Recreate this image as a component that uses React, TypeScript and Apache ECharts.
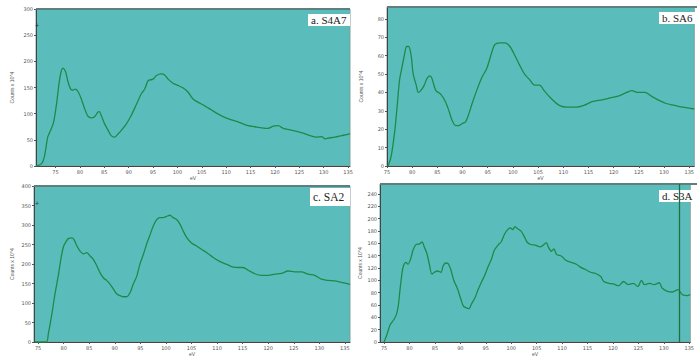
import React, { useEffect, useRef } from "react";
import * as echarts from "echarts";

// Panel a. S4A7 : [eV, counts x10^4]
const seriesA: number[][] = [
  [71, 0], [72.1, 4], [72.7, 17], [73.4, 55], [73.8, 64], [74.5, 80], [74.8, 93], [75.3, 125],
  [75.8, 163], [76.2, 182], [76.5, 187], [77.1, 179], [77.5, 163], [78.1, 147], [78.6, 145],
  [79.1, 147], [79.7, 141], [80.3, 128], [81, 109], [81.6, 96], [82.3, 92], [83, 94], [83.7, 103],
  [84, 104], [84.4, 96], [85.1, 80], [85.8, 68], [86.4, 58], [87.1, 55], [87.8, 61], [88.5, 68],
  [89.5, 80], [90.5, 96], [91.6, 118], [92.6, 138], [93.3, 147], [94, 163], [95, 166], [95.7, 173],
  [96.7, 176], [97.4, 174], [98.1, 166], [99.1, 158], [100.1, 154], [101.2, 149], [102.2, 141],
  [103.2, 128], [104.2, 122], [105.6, 115], [107, 107], [108.4, 99], [109.7, 93], [111.1, 88],
  [112.8, 83], [114.5, 77], [115.9, 75], [117.3, 73], [118.6, 72], [119.7, 76], [120.7, 77],
  [121.7, 72], [123.1, 69], [124.5, 66], [125.8, 63], [127.2, 58], [128.6, 55], [129.6, 56],
  [130.3, 52], [131.3, 54], [132.3, 55], [133.7, 58], [134.7, 60], [135.4, 62],
];

// Panel b. SA6
const seriesB: number[][] = [
  [75.2, 0], [75.8, 5], [76.5, 18], [77, 32], [77.5, 47], [78, 54], [78.5, 61], [78.9, 65],
  [79.3, 65], [79.8, 60], [80.2, 50], [80.8, 44], [81.2, 40], [81.7, 41], [82.4, 44], [83, 48],
  [83.6, 49], [84, 47], [84.7, 41], [85.7, 39], [86.6, 35], [87.3, 30], [87.9, 25], [88.6, 22],
  [89.2, 22], [89.9, 23], [90.6, 24], [91.2, 28], [91.9, 34], [92.8, 41], [93.8, 48], [94.8, 53],
  [95.6, 60], [96.4, 66], [97.4, 67], [98.4, 67], [99.4, 65], [100.4, 60], [101.3, 55],
  [102.3, 50], [103.3, 47], [104.3, 44], [105.3, 44], [106.2, 41], [107.5, 37], [109.2, 33],
  [110.8, 32], [112.5, 32], [114.1, 33], [115.7, 35], [117.7, 36], [119.3, 37], [120.9, 38],
  [122.6, 40], [123.6, 41], [124.9, 40], [126.2, 40], [127.5, 38], [128.8, 36], [130.4, 34],
  [132.1, 33], [133.7, 32], [136, 31],
];

// Panel c. SA2
const seriesC: number[][] = [
  [74.3, 0], [76.6, 0], [77, 21], [77.7, 72], [78.3, 123], [79, 174], [79.5, 216], [80, 246],
  [80.5, 258], [80.9, 265], [81.6, 267], [82, 263], [82.6, 246], [83.2, 233], [83.9, 226],
  [84.5, 229], [85.2, 220], [85.8, 212], [86.5, 195], [87.1, 178], [87.8, 164], [88.4, 158],
  [89.1, 148], [89.7, 136], [90.4, 123], [91, 119], [91.7, 116], [92.3, 116], [93, 127],
  [93.6, 148], [94.3, 169], [94.9, 199], [95.6, 225], [96.2, 250], [96.9, 275], [97.5, 297],
  [98.2, 314], [98.8, 319], [99.5, 319], [100.1, 322], [100.8, 325], [101.4, 319], [102.1, 314],
  [102.8, 301], [103.4, 284], [104.1, 267], [105, 254], [106, 246], [107, 237], [108, 229],
  [109.3, 216], [110.6, 206], [111.9, 199], [113.2, 192], [114.2, 191], [115.1, 191],
  [116.1, 184], [117.4, 175], [118.7, 171], [120, 171], [121.3, 174], [122.6, 176], [123.9, 182],
  [125.2, 180], [126.5, 180], [127.8, 174], [129.1, 171], [130.4, 161], [131.7, 158], [133, 157],
  [134.3, 153], [136, 148],
];

// Panel d. S3A
const seriesD: number[][] = [
  [75, 0], [75.6, 13], [76.2, 28], [76.9, 36], [77.4, 44], [77.8, 59], [78.1, 82], [78.5, 110],
  [78.8, 123], [79.3, 129], [79.7, 126], [80.2, 134], [80.7, 149], [81.3, 158], [82, 159],
  [82.5, 162], [82.9, 154], [83.4, 144], [83.9, 126], [84.4, 110], [84.9, 113], [85.5, 115],
  [86.2, 113], [86.6, 123], [87.1, 128], [87.6, 127], [88.1, 118], [88.7, 100], [89.4, 87],
  [90, 72], [90.6, 58], [91.3, 55], [91.7, 54], [92.2, 62], [92.9, 72], [93.5, 85], [94.2, 98],
  [94.8, 108], [95.4, 121], [96.1, 134], [96.7, 149], [97.4, 157], [98, 162], [98.7, 175],
  [99.3, 182], [99.8, 185], [100.3, 182], [100.7, 187], [101.2, 184], [101.9, 180], [102.5, 172],
  [103.1, 162], [103.8, 158], [104.7, 157], [105.7, 154], [106.3, 157], [106.9, 161], [107.3, 154],
  [107.9, 147], [108.4, 151], [108.9, 142], [109.9, 139], [110.8, 132], [111.8, 129], [112.8, 126],
  [113.7, 121], [114.7, 117], [115.6, 113], [116.6, 111], [117.6, 106], [118.2, 98], [119.2, 95],
  [120.1, 94], [121.1, 91], [122.1, 98], [123, 93], [124, 95], [124.9, 90], [125.6, 100],
  [126.2, 93], [127.2, 95], [128.1, 93], [129.1, 96], [129.7, 87], [130.7, 82], [131.7, 81],
  [132.8, 85], [133.6, 77], [134.6, 75], [135.2, 77],
];

const panelTitles = ["a. S4A7", "b. SA6", "c. SA2", "d. S3A"];
const xTicks = [75, 80, 85, 90, 95, 100, 105, 110, 115, 120, 125, 130, 135];
const yTicksA = [0, 50, 100, 150, 200, 250, 300];
const yTicksB = [0, 10, 20, 30, 40, 50, 60, 70, 80];
const yTicksC = [0, 50, 100, 150, 200, 250, 300, 350, 400];
const yTicksD = [0, 20, 40, 60, 80, 100, 120, 140, 160, 180, 200, 220, 240];
const markerD = 133;
const xName = "eV";
const yName = "Counts x 10^4";

const grids = [
  { left: 36, top: 9, width: 314, height: 157, xMin: 71, xMax: 135.4, yMax: 300, nameGap: 22 },
  { left: 387, top: 7, width: 310, height: 159, xMin: 75, xMax: 136, yMax: 86.5, nameGap: 24 },
  { left: 34, top: 186, width: 316, height: 157, xMin: 74.2, xMax: 136, yMax: 400, nameGap: 20 },
  { left: 380, top: 184, width: 317, height: 163, xMin: 74.2, xMax: 135.2, yMax: 256, nameGap: 18 },
];

const boxes = [
  { w: 42, dy: 5, h: 12, fs: 11 },
  { w: 38, dy: 5, h: 12, fs: 11 },
  { w: 40, dy: 2, h: 18, fs: 11.5 },
  { w: 38, dy: 6, h: 12, fs: 11 },
];

const App: React.FC = () => {
  const ref = useRef<HTMLDivElement>(null);
  useEffect(() => {
    if (!ref.current) return;
    const chart = echarts.init(ref.current, undefined, { renderer: "svg" });
    const yTicks = [yTicksA, yTicksB, yTicksC, yTicksD];
    const datas = [seriesA, seriesB, seriesC, seriesD];
    const labelStyle = { fontSize: 5, color: "#555", fontFamily: "DejaVu Sans" };
    const graphics: any[] = [];
    grids.forEach((g, i) => {
      graphics.push({
        type: "line",
        z: 1,
        shape: { x1: g.left, y1: g.top, x2: g.left + g.width, y2: g.top },
        style: { stroke: "#5f7f7d", lineWidth: 2 },
        silent: true,
      });
      const b = boxes[i];
      const bx = g.left + g.width - b.w;
      const by = g.top + b.dy;
      graphics.push({
        type: "rect",
        z: 1,
        shape: { x: bx, y: by, width: b.w, height: b.h },
        style: { fill: "#ffffff" },
        silent: true,
      });
      graphics.push({
        type: "text",
        z: 1,
        x: bx + 3,
        y: by + b.h / 2,
        style: {
          text: panelTitles[i],
          fontSize: b.fs,
          fontFamily: "Liberation Serif",
          fill: "#222",
          verticalAlign: "middle",
        },
        silent: true,
      });
    });
    graphics.push({ type: "text", z: 1, x: 35, y: 22, style: { text: "+", fontSize: 7, fill: "#333" } });
    graphics.push({ type: "text", z: 1, x: 35, y: 200, style: { text: "+", fontSize: 7, fill: "#333" } });

    const option: any = {
      animation: false,
      backgroundColor: "#ffffff",
      grid: grids.map((g) => ({
        left: g.left,
        top: g.top,
        width: g.width,
        height: g.height,
        show: true,
        backgroundColor: "#5bbdbb",
        borderColor: "#7f9f9d",
        borderWidth: 1,
      })),
      xAxis: grids.map((g, i) => ({
        type: "value",
        gridIndex: i,
        min: g.xMin,
        max: g.xMax,
        name: xName,
        nameLocation: "middle",
        nameGap: 9,
        nameTextStyle: { fontSize: 5, color: "#555" },
        axisLine: { show: true, onZero: false, lineStyle: { color: "#444", width: 1 } },
        axisTick: { show: true, length: 2, customValues: xTicks, lineStyle: { color: "#555" } },
        axisLabel: { ...labelStyle, margin: 3, customValues: xTicks },
        splitLine: { show: false },
      })),
      yAxis: grids.map((g, i) => ({
        type: "value",
        gridIndex: i,
        min: 0,
        max: g.yMax,
        name: yName,
        nameLocation: "middle",
        nameRotate: 90,
        nameGap: g.nameGap,
        nameTextStyle: { fontSize: 5, color: "#555" },
        axisLine: { show: true, lineStyle: { color: "#444", width: 1 } },
        axisTick: { show: true, length: 2, customValues: yTicks[i], lineStyle: { color: "#555" } },
        axisLabel: { ...labelStyle, margin: 3, customValues: yTicks[i] },
        splitLine: { show: false },
      })),
      series: datas.map((d, i) => ({
        type: "line",
        xAxisIndex: i,
        yAxisIndex: i,
        z: 5,
        data: d,
        showSymbol: false,
        smooth: 0.3,
        lineStyle: { color: "#1e8a4a", width: 1.3 },
        markLine:
          i === 3
            ? {
                silent: true,
                symbol: "none",
                z: 6,
                label: { show: false },
                lineStyle: { color: "#1f6f3f", width: 1.3, type: "solid" },
                data: [{ xAxis: markerD }],
              }
            : undefined,
      })),
      graphic: graphics,
    };
    chart.setOption(option);
    return () => chart.dispose();
  }, []);
  return (
    <div
      ref={ref}
      style={{ position: "fixed", left: 0, top: 0, width: 697, height: 357 }}
    />
  );
};

export default App;
